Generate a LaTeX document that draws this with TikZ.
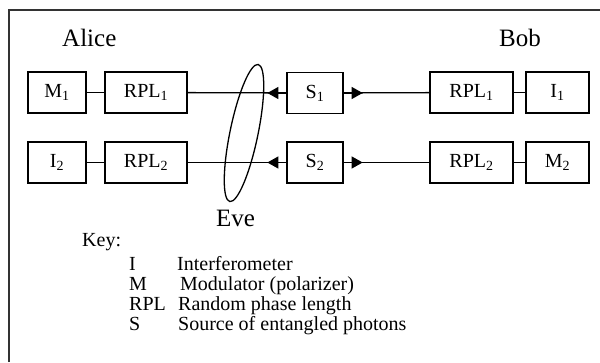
\documentclass[tikz,border=0pt]{standalone}
\usepackage{fontspec}
\setmainfont{Liberation Serif}
\usetikzlibrary{arrows.meta,shapes.geometric}
\definecolor{framegray}{HTML}{333333}

\tikzset{
  blk/.style={draw,line width=1.3pt,minimum height=41,inner sep=0pt,
    font=\fontsize{20}{20}\selectfont},
  wire/.style={line width=1.3pt},
  tipped/.style={wire,-{Triangle[length=11pt,width=12pt]}},
  who/.style={anchor=base west,inner sep=0pt,font=\fontsize{25}{25}\selectfont},
  keytext/.style={anchor=base west,inner sep=0pt,font=\fontsize{20}{20}\selectfont}
}

\begin{document}
\begin{tikzpicture}[x=1pt,y=-1pt]
  \useasboundingbox (0,0) rectangle (600,362);
  \draw[framegray,line width=2.2pt] (9,362) -- (9,10) -- (600,10);

  % Alice side
  \node[blk,minimum width=58] (ma) at (57,92.5)  {M\textsubscript{1}};
  \node[blk,minimum width=82] (ra1) at (146,92.5) {RPL\textsubscript{1}};
  \node[blk,minimum width=58] (ia) at (57,162.5) {I\textsubscript{2}};
  \node[blk,minimum width=82] (ra2) at (146,162.5) {RPL\textsubscript{2}};
  % sources
  \node[blk,minimum width=56] (s1) at (315,93) {S\textsubscript{1}};
  \node[blk,minimum width=56] (s2) at (315,162.5) {S\textsubscript{2}};
  % Bob side
  \node[blk,minimum width=83] (rb1) at (471.5,92.5) {RPL\textsubscript{1}};
  \node[blk,minimum width=63] (ib) at (557.5,92.5) {I\textsubscript{1}};
  \node[blk,minimum width=83] (rb2) at (471.5,162.5) {RPL\textsubscript{2}};
  \node[blk,minimum width=63] (mb) at (557.5,162.5) {M\textsubscript{2}};

  \draw[wire] (ma) -- (ra1);
  \draw[wire] (ia) -- (ra2);
  \draw[wire] (rb1) -- (ib);
  \draw[wire] (rb2) -- (mb);
  \foreach \row in {1,2} {
    \coordinate (tl\row) at ([xshift=-19pt]s\row.west);
    \coordinate (tr\row) at ([xshift=19pt]s\row.east);
    \draw[wire] (s\row) -- (ra\row);
    \draw[wire] (s\row) -- (rb\row);
    \draw[tipped] (s\row.west) -- (tl\row);
    \draw[tipped] (s\row.east) -- (tr\row);
  }

  % the tap
  \node[draw,ellipse,line width=1.3pt,minimum width=28,minimum height=140,
    inner sep=0pt,rotate=-11.7] (tap) at (244,133) {};

  \node[who] (alice) at (62,46.7)  {Alice};
  \node[who] (bob)   at (499,46.7) {Bob};
  \node[who] (eve)   at (216,226.7) {Eve};

  \node[keytext] (key) at (82,246) {Key:};
  \foreach \sym/\txt/\xx [count=\k] in {I/Interferometer/177,
      M/Modulator (polarizer)/180, RPL/Random phase length/178,
      S/Source of entangled photons/178} {
    \node[keytext] (sym\k) at (129,250.7+20*\k) {\sym};
    \node[keytext] (txt\k) at (\xx,250.7+20*\k) {\txt};
  }
\end{tikzpicture}
\end{document}
